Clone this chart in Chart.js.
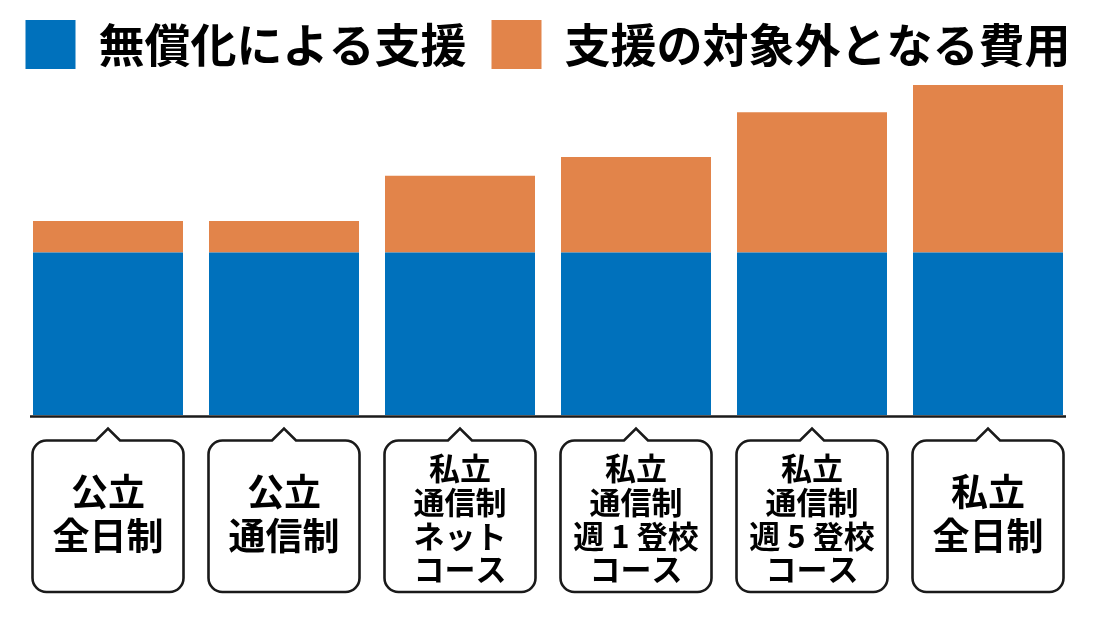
<!DOCTYPE html>
<html>
<head>
<meta charset="utf-8">
<script src="https://cdn.jsdelivr.net/npm/chart.js@4/dist/chart.umd.min.js"></script>
<style>
  html, body { margin: 0; padding: 0; background: #fff; }
  #wrap { width: 1096px; height: 617px; position: relative; }
</style>
</head>
<body>
<div id="wrap"><canvas id="c" width="1096" height="617"></canvas></div>
<script>
const categories = [
  ["公立", "全日制"],
  ["公立", "通信制"],
  ["私立", "通信制", "ネット", "コース"],
  ["私立", "通信制", "週 1 登校", "コース"],
  ["私立", "通信制", "週 5 登校", "コース"],
  ["私立", "全日制"]
];
const seriesNames = ["無償化による支援", "支援の対象外となる費用"];
const supportValues = [162.5, 162.5, 162.5, 162.5, 162.5, 162.5];
const uncoveredValues = [31.5, 31.5, 76.8, 95.5, 140.2, 167.5];
const colors = ["#0071BC", "#E2844A"];

const FONT = "'Noto Sans CJK JP', 'Noto Sans', sans-serif";

const boxPlugin = {
  id: 'labelBoxes',
  afterDraw(chart) {
    const ctx = chart.ctx;
    const xs = chart.scales.x;
    const area = chart.chartArea;
    ctx.save();
    ctx.strokeStyle = '#1a1a1a';
    ctx.lineWidth = 2.5;
    ctx.beginPath();
    ctx.moveTo(area.left + 10, area.bottom + 1.5);
    ctx.lineTo(area.right - 10, area.bottom + 1.5);
    ctx.stroke();
    const top = area.bottom + 25.5, bottom = area.bottom + 177, hw = 75.5, r = 14, pw = 12, ph = 12;
    ctx.lineWidth = 2.6;
    ctx.lineJoin = 'miter';
    for (let i = 0; i < categories.length; i++) {
      const x = xs.getPixelForTick(i);
      const l = x - hw, rr = x + hw;
      ctx.beginPath();
      ctx.moveTo(l + r, top);
      ctx.lineTo(x - pw, top);
      ctx.lineTo(x, top - ph);
      ctx.lineTo(x + pw, top);
      ctx.lineTo(rr - r, top);
      ctx.arcTo(rr, top, rr, top + r, r);
      ctx.lineTo(rr, bottom - r);
      ctx.arcTo(rr, bottom, rr - r, bottom, r);
      ctx.lineTo(l + r, bottom);
      ctx.arcTo(l, bottom, l, bottom - r, r);
      ctx.lineTo(l, top + r);
      ctx.arcTo(l, top, l + r, top, r);
      ctx.closePath();
      ctx.stroke();
    }
    ctx.restore();
  }
};

const sideAxis = (pos) => ({
  position: pos, display: true,
  grid: { display: false, drawTicks: false },
  border: { display: false },
  ticks: { display: false },
  afterFit(s) { s.width = 20; }
});

new Chart(document.getElementById('c'), {
  type: 'bar',
  data: {
    labels: categories,
    datasets: [
      { label: seriesNames[0], data: supportValues, backgroundColor: colors[0], borderWidth: 0 },
      { label: seriesNames[1], data: uncoveredValues, backgroundColor: colors[1], borderWidth: 0 }
    ]
  },
  plugins: [boxPlugin],
  options: {
    responsive: false,
    animation: false,
    layout: { autoPadding: false, padding: { left: 0, right: 0, top: -5, bottom: 0 } },
    datasets: { bar: { categoryPercentage: 1, barPercentage: 150 / 176 } },
    plugins: {
      tooltip: { enabled: false },
      legend: {
        position: 'top',
        labels: {
          boxWidth: 50, boxHeight: 49, padding: 25,
          color: '#000',
          font: { family: FONT, size: 46, weight: 'bold' }
        }
      }
    },
    scales: {
      x: {
        stacked: true,
        grid: { display: false, drawTicks: true, tickLength: 53.5 },
        border: { display: false },
        afterFit(s) { s.height = 202; },
        ticks: {
          color: '#000',
          padding: 0,
          crossAlign: 'center',
          maxRotation: 0, autoSkip: false,
          font: (c) => {
            const n = categories[c.index] ? categories[c.index].length : 2;
            return n > 2 ? { family: FONT, size: 31, weight: 'bold', lineHeight: 1.087 }
                         : { family: FONT, size: 37, weight: 'bold', lineHeight: 1.19 };
          }
        }
      },
      y: Object.assign({ stacked: true, min: 0, max: 336 }, sideAxis('left')),
      y2: Object.assign({ min: 0, max: 1 }, sideAxis('right'))
    }
  }
});
</script>
</body>
</html>
